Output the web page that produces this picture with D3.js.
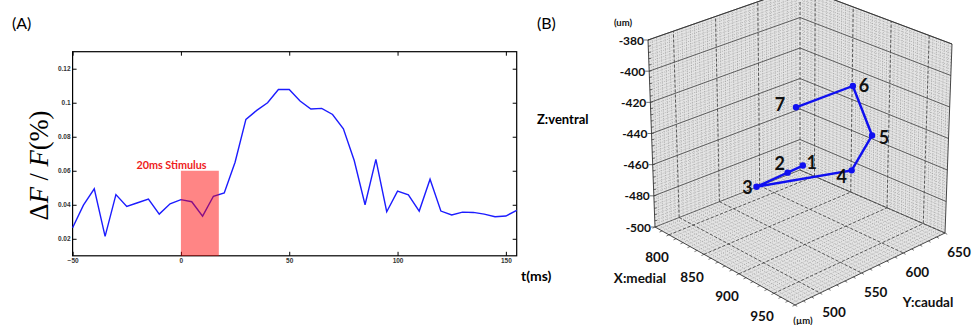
<!DOCTYPE html>
<html>
<head>
<meta charset="utf-8">
<script src="https://cdn.jsdelivr.net/npm/d3@7"></script>
<style>
  body { margin: 0; background: #fff; }
  svg { display: block; }
</style>
</head>
<body>
<svg id="chart" width="974" height="325"></svg>
<script>
// Panel A: dF/F trace, sampled every 5 ms.
const times = [-50, -45, -40, -35, -30, -25, -20, -15, -10, -5, 0, 5, 10, 15, 20,
  25, 30, 35, 40, 45, 50, 55, 60, 65, 70, 75, 80, 85, 90, 95, 100, 105, 110,
  115, 120, 125, 130, 135, 140, 145, 150, 155];
const dff = [0.0265, 0.0398, 0.0494, 0.0214, 0.046, 0.039, 0.0412, 0.0433,
  0.0345, 0.0406, 0.043, 0.0418, 0.0333, 0.045, 0.047, 0.065, 0.0902, 0.0955,
  0.100, 0.1078, 0.1078, 0.101, 0.0963, 0.0967, 0.0931, 0.0847, 0.066, 0.040,
  0.0667, 0.0359, 0.048, 0.0459, 0.0363, 0.055, 0.0363, 0.034, 0.0357, 0.0355,
  0.0345, 0.033, 0.0334, 0.0367];
const timeTicks = [-50, 0, 50, 100, 150];
const dffTicks = [0.02, 0.04, 0.06, 0.08, 0.1, 0.12];
const stimulus = [0, 17.5];
const stimulusTop = 0.06;

// Panel B: 3D positions of the seven sites (um).
const siteNames = ['1', '2', '3', '4', '5', '6', '7'];
const siteMedial = [840, 844, 850, 890, 890, 880, 850];
const siteCaudal = [600, 578, 535, 615, 639, 624, 583];
const siteVentral = [-474, -473, -471.5, -470, -453, -420, -431];
const medialTicks = [800, 850, 900, 950];
const caudalTicks = [500, 550, 600, 650];
const ventralTicks = [-500, -480, -460, -440, -420, -400, -380];

const svg = d3.select('#chart');

// ---------- Panel A ----------
const x = d3.scaleLinear().domain([-50, 155]).range([72.6, 516.7]);
const y = d3.scaleLinear().domain([0.01, 0.13]).range([255.8, 51.7]);
const a = svg.append('g');

a.append('text').attr('x', 12).attr('y', 28.5)
    .style('font', '16px Lato, sans-serif').text('(A)');

const tickFont = 'bold 6.5px "Liberation Sans", Arial, sans-serif';
a.append('g').attr('transform', `translate(0,${y.range()[0]})`)
    .call(d3.axisBottom(x).tickValues(timeTicks).tickSizeInner(-4)
        .tickSizeOuter(0).tickPadding(3).tickFormat(d3.format('d')));
a.append('g').attr('transform', `translate(0,${y.range()[1]})`)
    .call(d3.axisTop(x).tickValues(timeTicks).tickSizeInner(-4)
        .tickSizeOuter(0).tickFormat(''));
a.append('g').attr('transform', `translate(${x.range()[0]},0)`)
    .call(d3.axisLeft(y).tickValues(dffTicks).tickSizeInner(-4)
        .tickSizeOuter(0).tickPadding(2).tickFormat(d => String(+d.toFixed(2))));
a.append('g').attr('transform', `translate(${x.range()[1]},0)`)
    .call(d3.axisRight(y).tickValues(dffTicks).tickSizeInner(-4)
        .tickSizeOuter(0).tickFormat(''));
a.selectAll('.domain').remove();
a.selectAll('.tick line').attr('stroke', '#000');
a.selectAll('.tick text').style('font', tickFont).attr('fill', '#333');

a.append('rect')
    .attr('x', x.range()[0]).attr('y', y.range()[1])
    .attr('width', x.range()[1] - x.range()[0])
    .attr('height', y.range()[0] - y.range()[1])
    .attr('fill', 'none').attr('stroke', '#000').attr('stroke-width', 1.2);

a.append('path')
    .datum(times.map((t, i) => [t, dff[i]]))
    .attr('fill', 'none').attr('stroke', '#1c1cff').attr('stroke-width', 1.4)
    .attr('d', d3.line().x(d => x(d[0])).y(d => y(d[1])));

a.append('rect')
    .attr('x', x(stimulus[0])).attr('y', y(stimulusTop))
    .attr('width', x(stimulus[1]) - x(stimulus[0]))
    .attr('height', y(0.01) - y(stimulusTop))
    .attr('fill', '#ff0000').attr('fill-opacity', 0.48);

a.append('text').attr('x', 171.5).attr('y', 168.5).attr('text-anchor', 'middle')
    .attr('fill', '#ee1c1c').style('font', 'bold 10.8px Lato, sans-serif')
    .text('20ms Stimulus');

a.append('text')
    .attr('transform', 'translate(48,165.5) rotate(-90)')
    .attr('text-anchor', 'middle')
    .style('font', '26.5px "Liberation Serif", "DejaVu Serif", serif')
    .html('Δ<tspan font-style="italic">F</tspan> / <tspan font-style="italic">F</tspan>(%)');

a.append('text').attr('x', 521).attr('y', 281)
    .style('font', 'bold 14px Lato, sans-serif').text('t(ms)');

// ---------- Panel B ----------
const b = svg.append('g');
const bFont = 'Lato, "Open Sans", sans-serif';

b.append('text').attr('x', 537).attr('y', 28.5)
    .style('font', `16px ${bFont}`).text('(B)');
b.append('text').attr('x', 537).attr('y', 124)
    .style('font', `bold 13px ${bFont}`).text('Z:ventral');

const xDom = [780, 980], yDom = [470, 650], zDom = [-500, -380];
const su = d3.scaleLinear().domain(xDom).range([0, 1]);
const sw = d3.scaleLinear().domain(yDom).range([0, 1]);
const sh = d3.scaleLinear().domain(zDom).range([0, 1]);
// screen corners of the box: L=(xmin,ymin) F=(xmax,ymin) R=(xmax,ymax) B=(xmin,ymax)
const floorC = {L: [655, 227], F: [795, 305], R: [945, 233], B: [800, 170]};
const topC = {L: [648, 40], F: [795, 103], R: [952, 44], B: [800, -13]};

function bilerp(c, u, w, k) {
  return c.L[k] * (1 - u) * (1 - w) + c.F[k] * u * (1 - w) +
      c.R[k] * u * w + c.B[k] * (1 - u) * w;
}
function proj(px, py, pz) {
  const u = su(px), w = sw(py), h = sh(pz);
  const fx = bilerp(floorC, u, w, 0), fy = bilerp(floorC, u, w, 1);
  const tx = bilerp(topC, u, w, 0), ty = bilerp(topC, u, w, 1);
  return [fx + h * (tx - fx), fy + h * (ty - fy)];
}

const clip = b.append('defs').append('clipPath').attr('id', 'boxclip');
clip.append('rect').attr('x', 600).attr('y', 0).attr('width', 374).attr('height', 325);
const box = b.append('g').attr('clip-path', 'url(#boxclip)');

const poly = pts => 'M' + pts.map(p => p.join(',')).join('L') + 'Z';
// walls and floor
const wallFill = '#e4e4e4';
box.append('path').attr('fill', wallFill)
    .attr('d', poly([proj(780, 470, -500), proj(780, 650, -500),
      proj(780, 650, -380), proj(780, 470, -380)]));
box.append('path').attr('fill', wallFill)
    .attr('d', poly([proj(780, 650, -500), proj(980, 650, -500),
      proj(980, 650, -380), proj(780, 650, -380)]));
box.append('path').attr('fill', wallFill)
    .attr('d', poly([proj(780, 470, -500), proj(980, 470, -500),
      proj(980, 650, -500), proj(780, 650, -500)]));

function seg(g, p0, p1) {
  return g.append('line').attr('x1', p0[0]).attr('y1', p0[1])
      .attr('x2', p1[0]).attr('y2', p1[1]);
}

const minor = box.append('g').attr('stroke', '#8c8c8c').attr('stroke-width', 0.55)
    .attr('stroke-dasharray', '1,1.2');
const xMinor = d3.range(785, 980, 5), yMinor = d3.range(475, 650, 5),
    zMinor = d3.range(-498, -380, 2);
xMinor.forEach(v => {
  seg(minor, proj(v, 470, -500), proj(v, 650, -500));
  seg(minor, proj(v, 650, -500), proj(v, 650, -380));
});
yMinor.forEach(v => {
  seg(minor, proj(780, v, -500), proj(980, v, -500));
  seg(minor, proj(780, v, -500), proj(780, v, -380));
});
zMinor.forEach(v => {
  seg(minor, proj(780, 470, v), proj(780, 650, v));
  seg(minor, proj(780, 650, v), proj(980, 650, v));
});

const major = box.append('g').attr('stroke', '#3a3a3a').attr('stroke-width', 0.8)
    .attr('stroke-dasharray', '3,2');
medialTicks.forEach(v => {
  seg(major, proj(v, 470, -500), proj(v, 650, -500));
  seg(major, proj(v, 650, -500), proj(v, 650, -380));
});
caudalTicks.forEach(v => {
  seg(major, proj(780, v, -500), proj(980, v, -500));
  seg(major, proj(780, v, -500), proj(780, v, -380));
});
const zMajor = box.append('g').attr('stroke', '#4a4a4a').attr('stroke-width', 0.85);
ventralTicks.forEach(v => {
  seg(zMajor, proj(780, 470, v), proj(780, 650, v));
  seg(zMajor, proj(780, 650, v), proj(980, 650, v));
});

const edges = box.append('g').attr('stroke', '#333').attr('stroke-width', 0.9);
seg(edges, proj(780, 470, -500), proj(780, 470, -380));
seg(edges, proj(980, 650, -500), proj(980, 650, -380));
seg(edges, proj(780, 470, -500), proj(980, 470, -500));
seg(edges, proj(980, 470, -500), proj(980, 650, -500));
seg(edges, proj(780, 470, -380), proj(780, 650, -380));
seg(edges, proj(780, 650, -380), proj(980, 650, -380));

// axis ticks
const ticks = b.append('g').attr('stroke', '#333').attr('stroke-width', 0.7);
d3.range(-500, -379, 4).forEach(v => {
  const p = proj(780, 470, v);
  seg(ticks, p, [p[0] + 2.5, p[1] - 0.4]);
});
ventralTicks.forEach(v => {
  const p = proj(780, 470, v);
  seg(ticks, [p[0] - 4, p[1]], p);
});
d3.range(780, 981, 10).forEach(v => {
  const p = proj(v, 470, -500);
  seg(ticks, p, [p[0] - 2.5, p[1] + 1.2]);
});
d3.range(470, 651, 10).forEach(v => {
  const p = proj(980, v, -500);
  seg(ticks, p, [p[0] + 2.2, p[1] + 1.3]);
});

const lab = b.append('g').style('font', `bold 12.5px ${bFont}`).attr('fill', '#111');
ventralTicks.forEach(v => {
  const p = proj(780, 470, v);
  lab.append('text').attr('x', p[0] - 4).attr('y', p[1] + 4.5)
      .attr('text-anchor', 'end').style('font-size', '12px').text(v);
});
medialTicks.forEach(v => {
  const p = proj(v, 470, -500);
  lab.append('text').attr('x', p[0] - 12).attr('y', p[1] + 27.5)
      .attr('text-anchor', 'middle').style('font-size', '13.5px').text(v);
});
caudalTicks.forEach(v => {
  const p = proj(980, v, -500);
  lab.append('text').attr('x', p[0] + 14).attr('y', p[1] + 24)
      .attr('text-anchor', 'middle').style('font-size', '13.5px').text(v);
});
lab.append('text').attr('x', 640).attr('y', 282.5).attr('text-anchor', 'middle')
    .style('font-size', '13.5px').text('X:medial');
lab.append('text').attr('x', 928).attr('y', 306.5).attr('text-anchor', 'middle')
    .style('font-size', '13.5px').text('Y:caudal');
lab.append('text').attr('x', 623).attr('y', 26).attr('text-anchor', 'middle')
    .style('font-size', '9.5px').text('(um)');
lab.append('text').attr('x', 803).attr('y', 324).attr('text-anchor', 'middle')
    .style('font-size', '9.5px').text('(µm)');

// trajectory
const sites = siteNames.map((n, i) =>
    proj(siteMedial[i], siteCaudal[i], siteVentral[i]));
b.append('path').datum(sites)
    .attr('fill', 'none').attr('stroke', '#1010f0').attr('stroke-width', 2.4)
    .attr('d', d3.line());
b.append('g').selectAll('circle').data(sites).join('circle')
    .attr('cx', d => d[0]).attr('cy', d => d[1]).attr('r', 3.2)
    .attr('fill', '#1010f0');
const labelOffsets = [[9, 3], [-8, -3], [-9, 7], [-10, 13], [12, 9], [11, 6], [-16, 4]];
b.append('g').style('font', `bold 18px ${bFont}`).attr('fill', '#111')
    .selectAll('text').data(sites).join('text')
    .attr('x', (d, i) => d[0] + labelOffsets[i][0])
    .attr('y', (d, i) => d[1] + labelOffsets[i][1])
    .attr('text-anchor', 'middle')
    .text((d, i) => siteNames[i]);
</script>
</body>
</html>
